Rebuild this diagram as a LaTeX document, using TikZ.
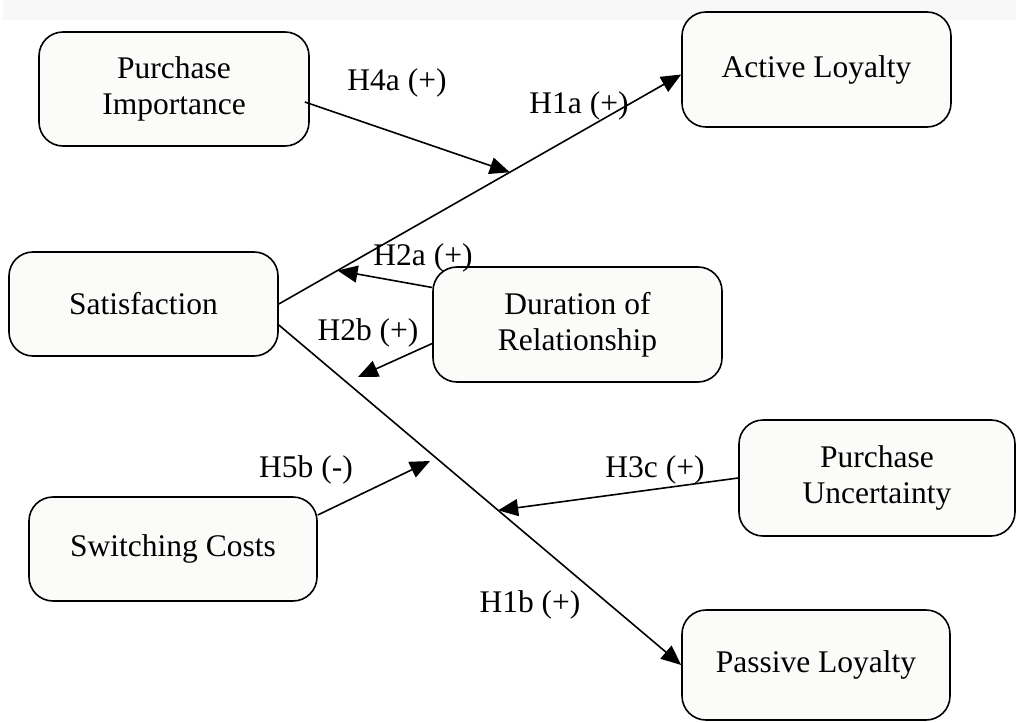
\documentclass[tikz,border=0pt]{standalone}
\usepackage{fontspec}
\setmainfont{Liberation Serif}
\usetikzlibrary{arrows.meta,calc}
\definecolor{boxfill}{HTML}{FBFBFA}
\definecolor{stripfill}{HTML}{F8F8F8}
\tikzset{
  box/.style={draw=black, line width=1.6pt, fill=boxfill, rounded corners=24pt,
    align=center, inner sep=0pt, font=\fontsize{31.5}{36}\selectfont},
  conn/.style={line width=1.6pt, -{Triangle[length=20pt,width=17pt]}},
  lbl/.style={font=\fontsize{31.5}{36}\selectfont, inner sep=0pt},
}
\begin{document}
\begin{tikzpicture}[x=1pt,y=-1pt]
\useasboundingbox (0,0) rectangle (1016,722);
\fill[stripfill] (3,0) rectangle (1016,20);

\node[box, minimum width=270pt, minimum height=114pt] (pi) at (174,89) {Purchase\\Importance};
\node[box, minimum width=269pt, minimum height=115pt] (al) at (816.5,69.5) {Active Loyalty};
\node[box, minimum width=269pt, minimum height=104pt] (sa) at (143.5,304) {Satisfaction};
\node[box, minimum width=289pt, minimum height=115pt] (dr) at (577.5,324.5) {Duration of\\Relationship};
\node[box, minimum width=276pt, minimum height=116pt] (pu) at (877,478) {Purchase\\Uncertainty};
\node[box, minimum width=288pt, minimum height=104pt] (sc) at (173,549) {Switching Costs};
\node[box, minimum width=268pt, minimum height=110pt] (pl) at (816,665) {Passive Loyalty};

\coordinate (t2b) at (358,377);
\coordinate (t5b) at (430,461);

\draw[conn] (sa.east) -- coordinate[pos=0.574] (t4a) coordinate[pos=0.146] (t2a) ($(al.west)+(0,5)$);
\draw[conn] ($(sa.east)+(0,21)$) -- coordinate[pos=0.545] (t3c) (pl.west);
\draw[conn] ($(pi.east)+(-5,13)$) -- (t4a);
\draw[conn] ($(dr.west)+(0,-37)$) -- (t2a);
\draw[conn] ($(dr.west)+(0,19)$) -- (t2b);
\draw[conn] ($(sc.east)+(0,-34)$) -- (t5b);
\draw[conn] (pu.west) -- (t3c);

\node[lbl] (l4a) at (397,83) {H4a (+)};
\node[lbl] (l1a) at (579,106) {H1a (+)};
\node[lbl] (l2a) at (423,258) {H2a (+)};
\node[lbl] (l2b) at (368,333) {H2b (+)};
\node[lbl] (l5b) at (306,470) {H5b (-)};
\node[lbl] (l3c) at (655,470) {H3c (+)};
\node[lbl] (l1b) at (530,605) {H1b (+)};
\end{tikzpicture}
\end{document}
